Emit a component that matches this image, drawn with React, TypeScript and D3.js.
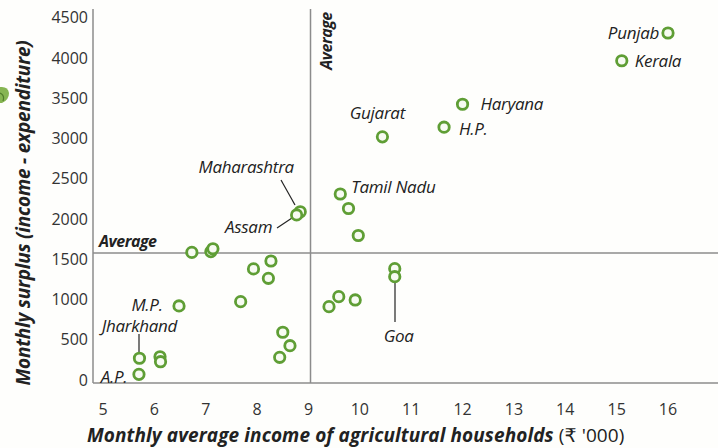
import React from "react";
import * as d3 from "d3";

const states = [
  "Punjab", "Kerala", "Haryana", "H.P.", "Gujarat", "Tamil Nadu", "", "",
  "Maharashtra", "Assam", "", "", "", "", "", "", "", "M.P.", "", "", "",
  "Jharkhand", "", "", "A.P.", "Goa", "", "", "", "",
];
const incomes = [
  16.0, 15.1, 12.0, 11.64, 10.44, 9.62, 9.78, 9.97,
  8.84, 8.77, 6.73, 7.1, 7.14, 7.93, 8.27, 8.22, 7.68, 6.48, 8.5, 8.64, 8.44,
  5.71, 6.11, 6.12, 5.7, 10.68, 10.68, 9.59, 9.4, 9.91,
];
const surpluses = [
  4310, 3965, 3425, 3140, 3020, 2310, 2130, 1795,
  2090, 2050, 1585, 1595, 1630, 1380, 1478, 1263, 973, 920, 593, 426, 282,
  270, 289, 227, 70, 1383, 1283, 1035, 911, 994,
];
const xTicks = [5, 6, 7, 8, 9, 10, 11, 12, 13, 14, 15, 16];
const yTicks = [0, 500, 1000, 1500, 2000, 2500, 3000, 3500, 4000, 4500];
const avgIncome = 9.04;
const avgSurplus = 1578;

// label layout: [dx, dy, anchor] relative to point
const labelLayout: Record<string, [number, number, string]> = {
  Punjab: [-9, 0, "end"],
  Kerala: [13, 0, "start"],
  Haryana: [18, 0, "start"],
  "H.P.": [15, 2, "start"],
  Gujarat: [-5, -24, "middle"],
  "Tamil Nadu": [11, -7, "start"],
  Maharashtra: [-54, -45, "middle"],
  Assam: [-48, 12, "middle"],
  "M.P.": [-32, -1, "middle"],
  Jharkhand: [0, -32, "middle"],
  "A.P.": [-25, 3, "middle"],
  Goa: [4, 67, "middle"],
};

const W = 718;
const H = 448;
const labelFont = "'Open Sans', 'DejaVu Sans', sans-serif";

export default function App() {
  const x = d3.scaleLinear().domain([5, 16]).range([103, 668]);
  const y = d3.scaleLinear().domain([0, 4500]).range([380, 17.7]);
  const left = 93;
  const bottom = 383;
  const gridColor = "#8c8c8c";
  const green = "#5f9e35";

  const pts = incomes.map((v, i) => ({ x: x(v), y: y(surpluses[i]), name: states[i] }));

  return (
    <svg
      width={W}
      height={H}
      style={{ position: "absolute", left: 0, top: 0, background: "#fefefc" }}
      fontFamily={labelFont}
    >
      <rect x={0} y={0} width={W} height={H} fill="#fefefc" />
      {/* cropped icon at edge */}
      <path d="M0,87 Q8,86 9,93 Q9,100 2,103 L0,103 Z" fill="#86b552" />
      <path d="M0,93 Q5,95 3,101" fill="none" stroke="#4f7d2a" strokeWidth={1.2} />

      {/* axes lines */}
      <line x1={left} x2={left} y1={9} y2={bottom} stroke={gridColor} strokeWidth={1.5} />
      <line x1={left} x2={W} y1={bottom} y2={bottom} stroke={gridColor} strokeWidth={1.5} />
      {/* averages */}
      <line x1={x(avgIncome)} x2={x(avgIncome)} y1={9} y2={bottom} stroke={gridColor} strokeWidth={1.5} />
      <line x1={left} x2={W} y1={y(avgSurplus)} y2={y(avgSurplus)} stroke={gridColor} strokeWidth={1.5} />

      {/* y tick labels */}
      {yTicks.map((t) => (
        <text key={t} x={88} y={y(t)} dy="0.35em" textAnchor="end" fontSize={16} fill="#333">
          {t}
        </text>
      ))}
      {/* x tick labels */}
      {xTicks.map((t) => (
        <text key={t} x={x(t)} y={409} dy="0.35em" textAnchor="middle" fontSize={16} fill="#333">
          {t}
        </text>
      ))}

      {/* average labels */}
      <text x={99} y={241} dy="0.35em" fontSize={16} fontWeight="bold" fontStyle="italic" fill="#222" letterSpacing={-0.5}>
        Average
      </text>
      <text
        transform={`translate(${x(avgIncome) + 16},41) rotate(-90)`}
        dy="0.35em"
        textAnchor="middle"
        fontSize={16}
        fontWeight="bold"
        fontStyle="italic"
        fill="#222"
        letterSpacing={-0.5}
      >
        Average
      </text>

      {/* leader lines */}
      <line x1={281} y1={180} x2={295} y2={205} stroke="#222" strokeWidth={1.2} />
      <line x1={277} y1={228} x2={292} y2={218} stroke="#222" strokeWidth={1.2} />
      <line x1={139} y1={334} x2={139} y2={353} stroke="#222" strokeWidth={1.2} />
      <line x1={395} y1={282} x2={395} y2={322} stroke="#222" strokeWidth={1.2} />

      {/* points */}
      {pts.map((p, i) => (
        <circle key={i} cx={p.x} cy={p.y} r={5.2} fill="#f7fbf2" stroke={green} strokeWidth={2.8} />
      ))}

      {/* state labels */}
      {pts
        .filter((p) => p.name)
        .map((p) => {
          const [dx, dy, anchor] = labelLayout[p.name];
          return (
            <text
              key={p.name}
              x={p.x + dx}
              y={p.y + dy}
              dy="0.35em"
              textAnchor={anchor as any}
              fontSize={17}
              fontStyle="italic"
              fill="#222"
              letterSpacing={-0.3}
            >
              {p.name}
            </text>
          );
        })}

      {/* axis titles */}
      <text
        x={87}
        y={435}
        dy="0.35em"
        fontSize={19}
        fontWeight="bold"
        fontStyle="italic"
        fill="#222"
        letterSpacing={0.1}
      >
        Monthly average income of agricultural households{" "}
        <tspan fontWeight="normal" fontStyle="normal">(₹ '000)</tspan>
      </text>
      <text
        transform="translate(23,213) rotate(-90)"
        dy="0.35em"
        textAnchor="middle"
        fontSize={19}
        fontWeight="bold"
        fontStyle="italic"
        fill="#222"
        letterSpacing={-0.2}
      >
        Monthly surplus (income - expenditure)
      </text>
    </svg>
  );
}
